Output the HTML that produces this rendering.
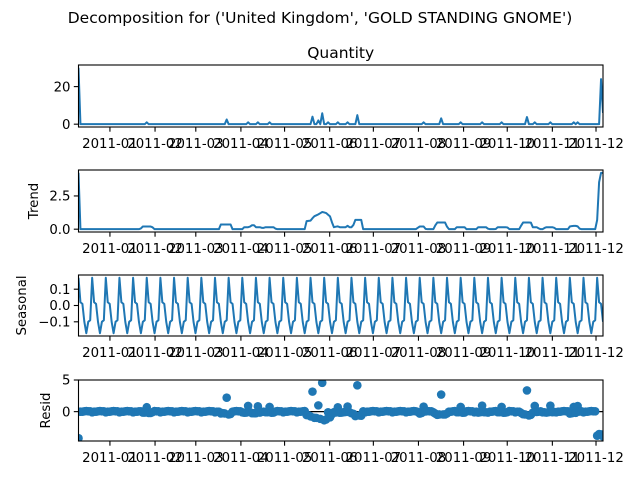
<!DOCTYPE html>
<html><head><meta charset="utf-8"><style>
html,body{margin:0;padding:0;background:#fff;}
svg{display:block;font-family:"DejaVu Sans","Liberation Sans",sans-serif;}
</style></head><body>
<svg id="chart" width="640" height="480" viewBox="0 0 640 480" xmlns="http://www.w3.org/2000/svg">
<text x="320" y="23" font-size="15.5" text-anchor="middle" fill="#000">Decomposition for ('United Kingdom', 'GOLD STANDING GNOME')</text>
<text x="340.7" y="58" font-size="15.5" text-anchor="middle" fill="#000">Quantity</text>
</svg>
<script>
// ---- data ----
const startDay = -21.6;           // days relative to 2011-01-01
const endDay = 338.8;
const nObs = 270;
const monthTickDays = [0, 31, 59, 90, 120, 151, 181, 212, 243, 273, 304, 334];
const monthTickLabels = ['2011-01','2011-02','2011-03','2011-04','2011-05','2011-06','2011-07','2011-08','2011-09','2011-10','2011-11','2011-12'];
const quantityDays = [-21.6, 25.4, 80, 95.5, 101, 110, 139, 143, 146.4, 150.5, 156.7, 163, 170.5, 216, 228, 240.5, 255.7, 268.7, 286, 291.4, 303, 319, 321, 337.5, 338.8];
const quantityValues = [30, 1, 2.5, 1, 1, 1, 4.0, 2, 5.8, 1, 1, 1, 4.8, 1, 3.1, 1, 1, 1, 3.8, 1, 1, 1, 1, 24, 6];
const trendDays = [-21.6,-20.8,21,22,29,30,75,76,83,84,91,92,96,97,99,100,104,105,106,113,114,134,135,138,140,143,146,149,151,152,153,155,156,157,162,163,164,167,168,173,174,211,212,216,217,223,224,231,232,237,238,244,245,252,253,259,260,265,266,273,274,282,283,288,289,290,294,295,298,299,305,306,315,316,318,321,322,323,334.5,335.8,336.8,338.8];
const trendValues = [4.24,0,0,0.2,0.2,0,0,0.35,0.35,0,0,0.15,0.15,0.3,0.3,0.15,0.15,0,0.15,0.15,0,0,0.6,0.65,0.95,1.1,1.3,1.2,0.95,1.0,0.15,0.15,0.3,0.15,0.15,0.3,0.15,0.15,0.7,0.7,0,0,0.2,0.2,0,0,0.5,0.5,0,0,0.15,0.15,0,0,0.15,0.15,0,0,0.15,0.15,0,0,0.5,0.5,0.6,0.15,0.15,0,0,0.15,0.15,0,0,0.2,0.25,0.25,0.15,0,0,3.2,4.24,4.24];
const seasonalPattern = [0.17, 0.02, 0.01, -0.10, -0.17, -0.10, -0.09];
const residOverrideDays = [-21.6, 334.6, 337.5, 338.8];
const residOverrideValues = [-4.2, -3.8, -3.6, -3.9];
const quantityTicks = [0, 20];
const trendTicks = [0.0, 2.5];
const trendTickLabels = ['0.0', '2.5'];
const seasonalTicks = [-0.1, 0.0, 0.1];
const seasonalTickLabels = ['\u22120.1', '0.0', '0.1'];
const residTicks = [0, 5];

// ---- series construction ----
const step = (endDay - startDay) / (nObs - 1);
const obsDays = [];
for (let i = 0; i < nObs; i++) obsDays.push(startDay + i * step);
const nearest = d => Math.max(0, Math.min(nObs - 1, Math.round((d - startDay) / step)));
const quantity = new Array(nObs).fill(0);
quantityDays.forEach((d, k) => { quantity[nearest(d)] = quantityValues[k]; });
function interpTrend(d) {
  for (let k = 0; k < trendDays.length - 1; k++) {
    if (d >= trendDays[k] && d <= trendDays[k + 1]) {
      const t = (d - trendDays[k]) / (trendDays[k + 1] - trendDays[k]);
      return trendValues[k] + t * (trendValues[k + 1] - trendValues[k]);
    }
  }
  return trendValues[trendValues.length - 1];
}
const trend = obsDays.map(interpTrend);
const seasonal = obsDays.map((d, i) => seasonalPattern[i % seasonalPattern.length]);
const resid = obsDays.map((d, i) => quantity[i] - trend[i] - seasonal[i] * 0.6);
residOverrideDays.forEach((d, k) => { resid[nearest(d)] = residOverrideValues[k]; });

// ---- layout ----
const svg = document.getElementById('chart');
const NS = 'http://www.w3.org/2000/svg';
const X0 = 78.5, X1 = 603;
const xScale = d => X0 + (d - startDay) / (endDay - startDay) * (X1 - X0);
const BLUE = '#1f77b4';
function mk(tag, attrs, parent) {
  const e = document.createElementNS(NS, tag);
  for (const k in attrs) e.setAttribute(k, attrs[k]);
  (parent || svg).appendChild(e);
  return e;
}
function ylimOf(vals) {
  const mn = Math.min(...vals), mx = Math.max(...vals);
  const m = (mx - mn) * 0.05;
  return [mn - m, mx + m];
}
function panel(name, top, bottom, values, ticks, tickLabels, ylabel, ylabelX, kind) {
  const g = mk('g', {});
  
  
  const [lo, hi] = ylimOf(values);
  const yScale = v => bottom - (v - lo) / (hi - lo) * (bottom - top);
  const clipId = 'clip-' + name;
  const cp = mk('clipPath', { id: clipId }, g);
  mk('rect', { x: X0, y: top, width: X1 - X0, height: bottom - top }, cp);
  const plot = mk('g', { 'clip-path': 'url(#' + clipId + ')' }, g);
  if (kind === 'line') {
    const pts = values.map((v, i) => xScale(obsDays[i]).toFixed(2) + ',' + yScale(v).toFixed(2)).join(' ');
    const pl = mk('polyline', { points: pts, fill: 'none', stroke: BLUE, 'stroke-width': 2, 'stroke-linejoin': 'round' }, plot);
    
    
  } else {
    const zl = mk('line', { x1: X0, x2: X1, y1: yScale(0), y2: yScale(0), stroke: '#000', 'stroke-width': 1.3 }, plot);
    
    
    values.forEach((v, i) => {
      const c = mk('circle', { cx: xScale(obsDays[i]), cy: yScale(v), r: 4.3, fill: BLUE }, plot);
      
      
    });
  }
  const fr = mk('rect', { x: X0, y: top, width: X1 - X0, height: bottom - top, fill: 'none', stroke: '#000', 'stroke-width': 1.1 }, g);
  
  
  ticks.forEach((t, k) => {
    const y = yScale(t);
    mk('line', { x1: X0 - 4.7, x2: X0, y1: y, y2: y, stroke: '#000', 'stroke-width': 1.1 }, g);
    const tx = mk('text', { x: X0 - 8, y: y + 4.7, 'font-size': 13.3, 'text-anchor': 'end', fill: '#000' }, g);
    
    
    tx.textContent = tickLabels[k];
  });
  monthTickDays.forEach((d, k) => {
    const x = xScale(d);
    mk('line', { x1: x, x2: x, y1: bottom, y2: bottom + 4.7, stroke: '#000', 'stroke-width': 1.1 }, g);
    const tx = mk('text', { x: x, y: bottom + 21, 'font-size': 13.3, 'text-anchor': 'middle', fill: '#000' }, g);
    
    
    tx.textContent = monthTickLabels[k];
  });
  if (ylabel) {
    const cy = (top + bottom) / 2;
    const yl = mk('text', { x: ylabelX, y: cy, 'font-size': 13.3, 'text-anchor': 'middle', fill: '#000', transform: 'rotate(-90 ' + ylabelX + ' ' + cy + ')' }, g);
    
    
    yl.textContent = ylabel;
  }
}
panel('quantity', 65, 127, quantity, quantityTicks, quantityTicks.map(String), null, 0, 'line');
panel('trend', 170, 232, trend, trendTicks, trendTickLabels, 'Trend', 38, 'line');
panel('seasonal', 275, 336, seasonal, seasonalTicks, seasonalTickLabels, 'Seasonal', 26, 'line');
panel('resid', 380, 441, resid, residTicks, residTicks.map(String), 'Resid', 50, 'dots');
</script>
</body></html>
